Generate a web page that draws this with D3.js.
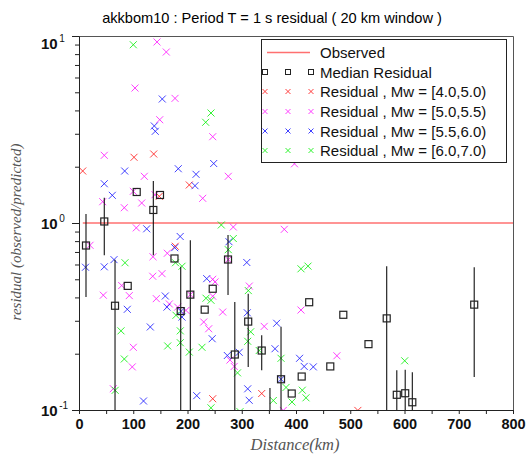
<!DOCTYPE html>
<html>
<head>
<meta charset="utf-8">
<script src="https://cdn.jsdelivr.net/npm/d3@7"></script>
<style>
  html, body { margin: 0; padding: 0; background: #fff; }
  svg { display: block; }
</style>
</head>
<body>
<svg id="chart" width="528" height="457"></svg>
<script>
// Residual points [distance km, observed/predicted], grouped by magnitude bin
const mw40_50 = [
  [6.8, 1.897], [101.4, 2.246], [137.7, 2.339], [203.3, 1.597], [148.0, 1.389],
  [177.5, 0.751], [246.5, 0.1149], [336.8, 0.1225], [514.0, 0.0995]
];
const mw50_55 = [
  [143.8, 9.29], [160.9, 8.21], [103.2, 5.27], [177.0, 4.64], [148.8, 3.567],
  [246.5, 2.894], [46.6, 2.301], [120.4, 1.777], [275.2, 1.777], [397.2, 2.073],
  [43.7, 1.300], [100.1, 1.477], [115.6, 1.279], [83.5, 1.207], [140.1, 1.417],
  [228.0, 1.355], [105.6, 0.942], [284.4, 0.952], [378.4, 0.925], [20.3, 0.760],
  [78.7, 0.463], [44.8, 0.411], [92.7, 0.409], [100.1, 0.2164], [98.2, 0.170],
  [63.2, 0.130], [136.4, 0.660], [135.9, 0.519], [153.0, 0.536], [142.5, 0.394],
  [162.8, 0.689], [166.5, 0.369], [181.9, 0.355], [197.2, 0.341], [205.2, 0.414],
  [246.5, 0.500], [250.7, 0.484], [246.5, 0.406], [229.9, 0.2955], [239.1, 0.272],
  [275.2, 0.637], [278.3, 0.185], [286.1, 0.171], [313.9, 0.460], [264.9, 0.334],
  [341.4, 0.280], [409.2, 0.3425], [475.4, 0.195], [376.6, 0.0995]
];
const mw55_60 = [
  [153.5, 4.603], [138.8, 3.303], [140.6, 3.093], [84.2, 1.897], [183.0, 1.951],
  [248.3, 2.080], [215.7, 1.821], [213.8, 1.583], [46.6, 1.622], [61.4, 1.406],
  [124.8, 0.931], [186.5, 0.847], [12.0, 0.580], [46.6, 0.583], [64.5, 0.637],
  [89.0, 0.3455], [131.4, 0.278], [118.9, 0.1117], [176.4, 0.738], [159.1, 0.407],
  [162.2, 0.355], [188.0, 0.337], [189.9, 0.314], [235.4, 0.504], [245.5, 0.2405],
  [217.0, 0.1193], [276.5, 0.794], [309.3, 0.615], [310.2, 0.331], [273.4, 0.1956],
  [295.3, 0.2035], [311.0, 0.1298], [313.7, 0.1127], [364.4, 0.291], [361.3, 0.2126],
  [372.4, 0.146], [406.6, 0.189], [415.1, 0.171], [431.9, 0.170]
];
const mw60_70 = [
  [100.1, 8.98], [243.3, 3.874], [233.5, 3.456], [262.3, 0.976], [84.8, 0.613],
  [77.4, 0.265], [83.5, 0.1874], [66.7, 0.1274], [177.9, 0.613], [189.9, 0.587],
  [178.8, 0.321], [186.7, 0.265], [186.7, 0.229], [163.5, 0.220], [203.3, 0.204],
  [234.1, 0.396], [243.3, 0.386], [226.7, 0.2164], [243.3, 0.1027], [284.4, 0.826],
  [275.2, 0.720], [312.1, 0.435], [316.5, 0.262], [311.0, 0.233], [292.2, 0.158],
  [332.2, 0.208], [372.4, 0.189], [381.6, 0.132], [392.6, 0.1104], [411.6, 0.1276],
  [418.4, 0.1162], [358.2, 0.1124], [409.2, 0.569], [422.1, 0.588], [600.4, 0.1833],
  [296.8, 0.098]
];

// Median residual in each 20 km window, with its spread (low / high)
const medianKm  = [12.9, 46.6, 66.4, 89.8, 106.4, 137.0, 149.3, 176.0, 187.5, 205.2,
                   231.7, 246.5, 274.7, 287.2, 311.9, 336.8, 352.0, 372.4, 392.1, 410.5,
                   424.3, 463.2, 487.2, 533.6, 567.2, 585.8, 601.3, 614.4, 728.5];
const medianRes = [0.758, 1.019, 0.361, 0.461, 1.465, 1.174, 1.412, 0.646, 0.338, 0.414,
                   0.344, 0.445, 0.638, 0.198, 0.297, 0.208, 0.080, 0.146, 0.1225, 0.151,
                   0.377, 0.171, 0.323, 0.225, 0.309, 0.1206, 0.1229, 0.110, 0.366];
const medianLo  = [0.402, 0.672, 0.07, 0.461, 1.465, 0.672, 1.412, 0.646, 0.07, 0.07,
                   0.344, 0.445, 0.412, 0.07, 0.170, 0.163, 0.05, 0.07, 0.1225, 0.151,
                   0.377, 0.171, 0.323, 0.225, 0.07, 0.07, 0.07, 0.07, 0.150];
const medianHi  = [1.117, 1.366, 0.637, 0.461, 1.465, 1.677, 1.412, 0.646, 0.584, 0.808,
                   0.344, 0.445, 0.863, 0.378, 0.419, 0.251, 0.131, 0.279, 0.1225, 0.151,
                   0.377, 0.171, 0.323, 0.225, 0.587, 0.163, 0.164, 0.159, 0.580];

// Observed reference level (residual = 1)
const observedKm = [7, 800];
const observedRes = [1, 1];

// Axis ticks
const xTicks = [0, 50, 100, 150, 200, 250, 300, 350, 400, 450, 500, 550, 600, 650, 700, 750, 800];
const xLabelled = [0, 100, 200, 300, 400, 500, 600, 700, 800];
const yDecades = [0.1, 1, 10];
const yDecadeExp = ["-1", "0", "1"];
const yMinor = [0.2, 0.3, 0.4, 0.5, 0.6, 0.7, 0.8, 0.9, 2, 3, 4, 5, 6, 7, 8, 9];

const titleText = "akkbom10 : Period T = 1 s residual ( 20 km window )";
const legendLabels = ["Observed", "Median Residual",
  "Residual , Mw = [4.0,5.0)", "Residual , Mw = [5.0,5.5)",
  "Residual , Mw = [5.5,6.0)", "Residual , Mw = [6.0,7.0)"];

const groups = [
  { data: mw40_50, color: "#ff2020" },
  { data: mw50_55, color: "#ff20ff" },
  { data: mw55_60, color: "#2020ff" },
  { data: mw60_70, color: "#10f010" }
];

const svg = d3.select("#chart");
const pLeft = 79, pRight = 513, pTop = 36, pBottom = 410;

const x = d3.scaleLinear().domain([0, 800]).range([pLeft, pRight]);
const y = d3.scaleLog().domain([0.1, 10]).range([pBottom, pTop]);

// Title
svg.append("text")
  .attr("x", 272).attr("y", 23)
  .attr("text-anchor", "middle")
  .style("font-family", "'Liberation Sans', Arial, sans-serif")
  .style("font-size", "14.6px")
  .text(titleText);

// Clip for plotted marks
svg.append("defs").append("clipPath").attr("id", "plotClip")
  .append("rect").attr("x", pLeft).attr("y", pTop)
  .attr("width", pRight - pLeft).attr("height", pBottom - pTop);

const plot = svg.append("g").attr("clip-path", "url(#plotClip)");

// Observed line
plot.append("path")
  .datum(observedKm.map((k, i) => [k, observedRes[i]]))
  .attr("d", d3.line().x(d => x(d[0])).y(d => y(d[1])))
  .attr("fill", "none")
  .attr("stroke", "#ff7070")
  .attr("stroke-width", 1.6);

// Residual crosses
const xs = 3.5;
const crossPath = (cx, cy, s) => `M${cx - s},${cy - s}L${cx + s},${cy + s}M${cx - s},${cy + s}L${cx + s},${cy - s}`;
groups.forEach(g => {
  plot.append("g").selectAll("path")
    .data(g.data).join("path")
    .attr("d", d => crossPath(x(d[0]), y(d[1]), xs))
    .attr("fill", "none")
    .attr("stroke", g.color)
    .attr("stroke-width", 1)
    .attr("opacity", 0.85);
});

// Median spread bars and squares
const medians = medianKm.map((k, i) => ({ k, v: medianRes[i], lo: medianLo[i], hi: medianHi[i] }));
plot.append("g").selectAll("line")
  .data(medians.filter(d => d.hi > d.lo)).join("line")
  .attr("x1", d => x(d.k)).attr("x2", d => x(d.k))
  .attr("y1", d => y(d.hi)).attr("y2", d => y(d.lo))
  .attr("stroke", "#111").attr("stroke-width", 1.1);
const sq = 3.5;
plot.append("g").selectAll("rect")
  .data(medians).join("rect")
  .attr("x", d => x(d.k) - sq).attr("y", d => y(d.v) - sq)
  .attr("width", sq * 2).attr("height", sq * 2)
  .attr("fill", "none").attr("stroke", "#222").attr("stroke-width", 1.2);

// Frame: top and right edges
svg.append("path")
  .attr("d", `M${pLeft},${pTop + 0.5}H${pRight + 0.5}V${pBottom}`)
  .attr("fill", "none").attr("stroke", "#555").attr("stroke-width", 1);

// X axis
const xAxis = svg.append("g").attr("transform", `translate(0,${pBottom})`)
  .call(d3.axisBottom(x).tickValues(xTicks).tickSizeOuter(0)
    .tickSize(4).tickPadding(5)
    .tickFormat(d => xLabelled.includes(d) ? String(d) : ""));
xAxis.select(".domain").attr("stroke", "#222");
xAxis.selectAll(".tick line").attr("stroke", "#222");
xAxis.selectAll("text")
  .style("font-family", "'Liberation Sans', Arial, sans-serif")
  .style("font-size", "14.5px").style("font-weight", "bold").attr("fill", "#111");

// Y axis: minor ticks
const yMinorAxis = svg.append("g").attr("transform", `translate(${pLeft},0)`)
  .call(d3.axisLeft(y).tickValues(yMinor).tickSize(4).tickSizeOuter(0).tickFormat(""));
yMinorAxis.select(".domain").remove();
yMinorAxis.selectAll(".tick line").attr("stroke", "#222");

// Y axis: decades with power-of-ten labels
const yAxis = svg.append("g").attr("transform", `translate(${pLeft},0)`)
  .call(d3.axisLeft(y).tickValues(yDecades).tickSize(7).tickSizeOuter(0).tickPadding(10)
    .tickFormat(() => "10"));
yAxis.select(".domain").attr("stroke", "#222");
yAxis.selectAll(".tick line").attr("stroke", "#222");
yAxis.selectAll(".tick text")
  .style("font-family", "'Liberation Sans', Arial, sans-serif")
  .style("font-size", "15px").style("font-weight", "bold").attr("fill", "#111")
  .attr("x", -38).attr("text-anchor", "start")
  .attr("dy", (d, i) => i === 2 ? "0.85em" : "0.38em")
  .each(function(d, i) {
    d3.select(this).append("tspan")
      .attr("dx", "1.5px").attr("dy", "-0.7em")
      .style("font-size", "10px").style("font-weight", "normal")
      .text(yDecadeExp[i]);
  });

// Axis titles
svg.append("text")
  .attr("x", 295).attr("y", 450)
  .attr("text-anchor", "middle")
  .style("font-family", "'Liberation Serif', 'Times New Roman', serif")
  .style("font-style", "italic").style("font-size", "16.5px")
  .attr("fill", "#555")
  .text("Distance(km)");
svg.append("text")
  .attr("transform", "translate(21,232) rotate(-90)")
  .attr("text-anchor", "middle")
  .style("font-family", "'Liberation Serif', 'Times New Roman', serif")
  .style("font-style", "italic").style("font-size", "15px")
  .attr("fill", "#555")
  .text("residual (observed/predicted)");

// Legend
const lg = svg.append("g");
lg.append("rect").attr("x", 261.5).attr("y", 39.5).attr("width", 245).attr("height", 123)
  .attr("fill", "#fff").attr("stroke", "#222").attr("stroke-width", 1);
const rowY = [52.5, 72, 91.5, 111.5, 131, 150.5];
const symX = [265, 288, 311];
lg.append("line").attr("x1", 267).attr("x2", 310).attr("y1", rowY[0]).attr("y2", rowY[0])
  .attr("stroke", "#ff7070").attr("stroke-width", 1.6);
symX.forEach(sx => {
  lg.append("rect").attr("x", sx - 2.5).attr("y", rowY[1] - 2.5).attr("width", 5).attr("height", 5)
    .attr("fill", "none").attr("stroke", "#222").attr("stroke-width", 1);
  groups.forEach((g, gi) => {
    lg.append("path").attr("d", crossPath(sx, rowY[gi + 2], 2.5))
      .attr("fill", "none").attr("stroke", g.color).attr("stroke-width", 1).attr("opacity", 0.85);
  });
});
lg.selectAll("text.lab").data(legendLabels).join("text")
  .attr("class", "lab")
  .attr("x", 320).attr("y", (d, i) => rowY[i] + 5.5)
  .style("font-family", "'Liberation Sans', Arial, sans-serif")
  .style("font-size", "15px").attr("fill", "#111")
  .text(d => d);
</script>
</body>
</html>
